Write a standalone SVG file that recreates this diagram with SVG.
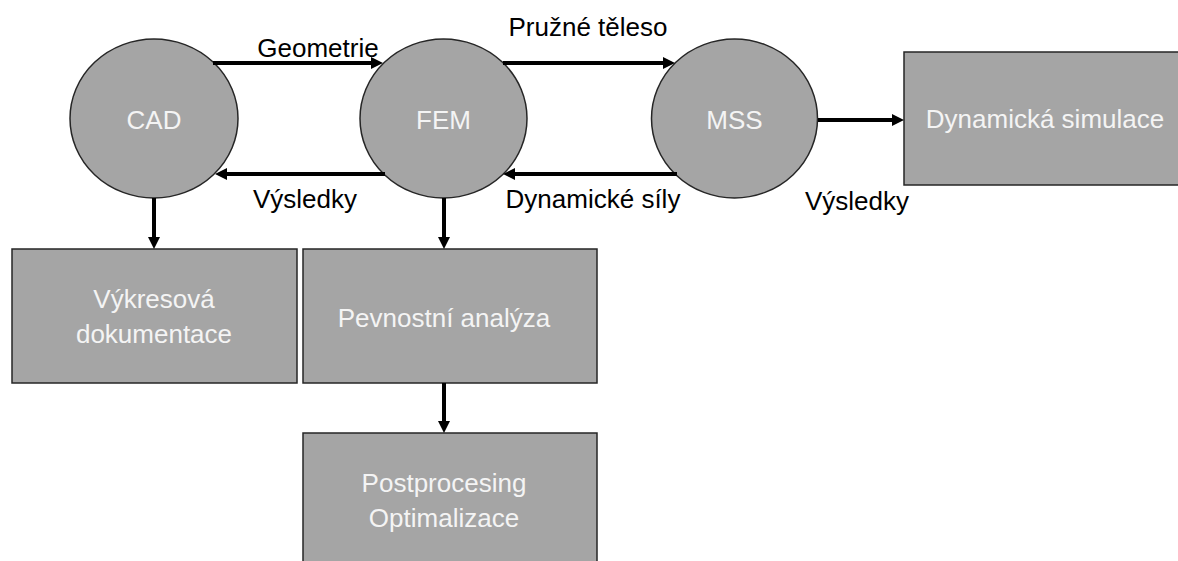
<svg xmlns="http://www.w3.org/2000/svg" width="1178" height="561" viewBox="0 0 1178 561">
<style>
.node{fill:#a5a5a5;stroke:#262626;stroke-width:1.5}
.nt{font-family:"Liberation Sans",Arial,sans-serif;font-size:26px;fill:#f4f4f4;text-anchor:middle}
.lbl{font-family:"Liberation Sans",Arial,sans-serif;font-size:26px;fill:#000}
.conn line{stroke:#000;stroke-width:4;marker-end:url(#ah)}
</style>
<defs>
<marker id="ah" markerUnits="userSpaceOnUse" markerWidth="14" markerHeight="14" refX="2" refY="6" orient="auto">
<path d="M0,0 L12,6 L0,12 z" fill="#000"/>
</marker>
</defs>
<rect width="1178" height="561" fill="#fff"/>
<g id="cad"><ellipse class="node" cx="154" cy="118.5" rx="84" ry="79.5"/><text class="nt" x="154" y="129">CAD</text></g>
<g id="fem"><ellipse class="node" cx="443.5" cy="118.5" rx="83.5" ry="79.5"/><text class="nt" x="443.5" y="129">FEM</text></g>
<g id="mss"><ellipse class="node" cx="734.5" cy="118.5" rx="83" ry="79.5"/><text class="nt" x="734.5" y="129">MSS</text></g>
<g id="dyn"><rect class="node" x="904" y="52" width="278" height="133"/><text class="nt" x="1045" y="128">Dynamická simulace</text></g>
<g id="vykres"><rect class="node" x="12" y="249" width="285" height="134"/><text class="nt" x="154" y="308">Výkresová</text><text class="nt" x="154" y="343">dokumentace</text></g>
<g id="pevnost"><rect class="node" x="303" y="249" width="294" height="134"/><text class="nt" x="444" y="327">Pevnostní analýza</text></g>
<g id="post"><rect class="node" x="303" y="433" width="294" height="140"/><text class="nt" x="444" y="492">Postprocesing</text><text class="nt" x="444" y="527">Optimalizace</text></g>
<g id="connectors" class="conn">
<line x1="213" y1="63" x2="373" y2="63"/>
<line x1="385" y1="174" x2="225" y2="174"/>
<line x1="503" y1="63" x2="665" y2="63"/>
<line x1="677" y1="174" x2="513" y2="174"/>
<line x1="818" y1="120" x2="894" y2="120"/>
<line x1="154" y1="198" x2="154" y2="239"/>
<line x1="444" y1="198" x2="444" y2="239"/>
<line x1="444" y1="383" x2="444" y2="423"/>
</g>
<g id="labels">
<text class="lbl" x="318" y="57" text-anchor="middle">Geometrie</text>
<text class="lbl" x="588" y="36" text-anchor="middle">Pružné těleso</text>
<text class="lbl" x="305" y="208" text-anchor="middle">Výsledky</text>
<text class="lbl" x="593" y="208" text-anchor="middle">Dynamické síly</text>
<text class="lbl" x="857" y="210" text-anchor="middle">Výsledky</text>
</g>
</svg>
